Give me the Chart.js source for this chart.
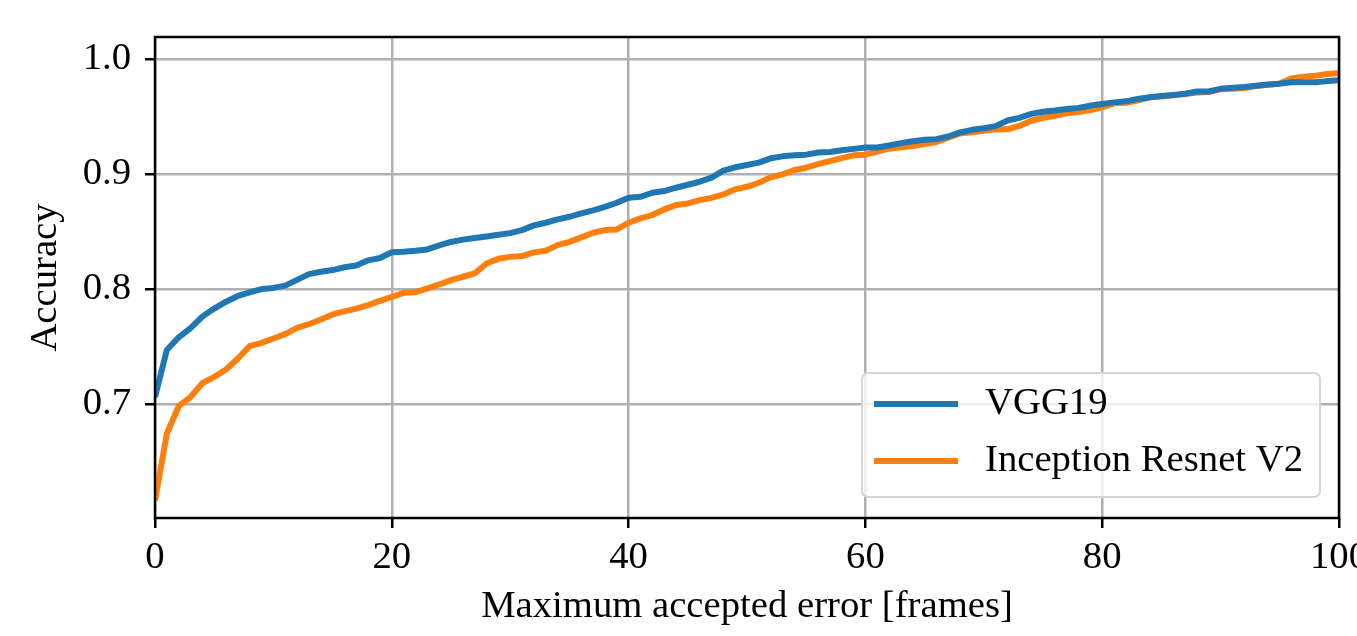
<!DOCTYPE html>
<html>
<head>
<meta charset="utf-8">
<script src="https://cdn.jsdelivr.net/npm/chart.js@4.4.1/dist/chart.umd.min.js"></script>
<style>
  html, body { margin: 0; padding: 0; background: #ffffff; }
  #wrap { width: 1357px; height: 636px; position: relative; }
</style>
</head>
<body>
<div id="wrap"><canvas id="c"></canvas></div>
<script>
const frames = [0,1,2,3,4,5,6,7,8,9,10,11,12,13,14,15,16,17,18,19,20,21,22,23,24,25,26,27,28,29,30,31,32,33,34,35,36,37,38,39,40,41,42,43,44,45,46,47,48,49,50,51,52,53,54,55,56,57,58,59,60,61,62,63,64,65,66,67,68,69,70,71,72,73,74,75,76,77,78,79,80,81,82,83,84,85,86,87,88,89,90,91,92,93,94,95,96,97,98,99,100];

const vgg19 = [0.706,0.747,0.758,0.766,0.776,0.783,0.789,0.794,0.797,0.800,
  0.801,0.803,0.808,0.813,0.815,0.8165,0.819,0.8205,0.825,0.827,
  0.832,0.8325,0.8333,0.8345,0.838,0.841,0.843,0.8444,0.8458,0.8472,
  0.8487,0.8513,0.8554,0.8577,0.8606,0.8629,0.8658,0.8685,0.8716,0.8751,
  0.8795,0.8803,0.8838,0.8853,0.8882,0.8908,0.8934,0.897,0.9031,0.906,
  0.908,0.910,0.9138,0.9155,0.9164,0.917,0.9188,0.9193,0.9208,0.922,
  0.9232,0.9232,0.925,0.927,0.9287,0.930,0.9305,0.9328,0.9363,0.9386,
  0.940,0.9418,0.9467,0.949,0.9525,0.9543,0.9554,0.9568,0.9577,0.9597,
  0.9611,0.9625,0.9634,0.9655,0.9669,0.968,0.969,0.970,0.972,0.972,
  0.9743,0.9752,0.9758,0.977,0.978,0.9788,0.980,0.980,0.980,0.981,0.9817];

const inceptionResnetV2 = [0.616,0.674,0.698,0.706,0.718,0.7235,0.730,0.7395,0.7503,0.7531,
  0.757,0.7607,0.7662,0.7694,0.7735,0.7779,0.7805,0.783,0.786,0.7897,
  0.7932,0.7967,0.7973,0.8005,0.804,0.8078,0.8107,0.8136,0.8223,0.8263,
  0.828,0.8287,0.8319,0.8333,0.8382,0.8411,0.845,0.849,0.8513,0.8519,
  0.8577,0.8615,0.8644,0.8693,0.8731,0.8745,0.8774,0.8794,0.8824,0.8868,
  0.889,0.8925,0.8972,0.8998,0.9036,0.9056,0.9088,0.9114,0.914,0.9164,
  0.917,0.9196,0.9222,0.9234,0.9245,0.9262,0.928,0.9317,0.9355,0.9364,
  0.9378,0.939,0.939,0.942,0.9465,0.9491,0.9509,0.953,0.9541,0.9559,
  0.9582,0.9617,0.9622,0.964,0.9669,0.9675,0.9686,0.9698,0.971,0.9715,
  0.9741,0.9744,0.975,0.9767,0.9779,0.979,0.9834,0.9849,0.9857,0.9872,0.9878];

const seriesNames = ['VGG19', 'Inception Resnet V2'];
const seriesColors = ['#1f77b4', '#ff7f0e'];
const yTickValues = [0.7, 0.8, 0.9, 1.0];
const xTickValues = [0, 20, 40, 60, 80, 100];
const xTitle = 'Maximum accepted error [frames]';
const yTitle = 'Accuracy';

const FONT_FAMILY = '"Liberation Serif", "Times New Roman", "DejaVu Serif", serif';
const FONT_SIZE = 38.7;

function toPoints(ys) { return frames.map((f, i) => ({ x: f, y: ys[i] })); }

const framePlugin = {
  id: 'framePlugin',
  afterDatasetsDraw(chart) {
    const { ctx, chartArea: a } = chart;
    ctx.save();
    // legend box
    const bw = 458, bh = 124;
    const bx = a.right - 19 - bw, by = a.bottom - 21 - bh;
    ctx.beginPath();
    const r = 6;
    ctx.moveTo(bx + r, by);
    ctx.arcTo(bx + bw, by, bx + bw, by + bh, r);
    ctx.arcTo(bx + bw, by + bh, bx, by + bh, r);
    ctx.arcTo(bx, by + bh, bx, by, r);
    ctx.arcTo(bx, by, bx + bw, by, r);
    ctx.closePath();
    ctx.fillStyle = 'rgba(255,255,255,0.8)';
    ctx.fill();
    ctx.strokeStyle = '#d6d6d6';
    ctx.lineWidth = 2;
    ctx.stroke();
    ctx.font = FONT_SIZE + 'px ' + FONT_FAMILY;
    ctx.textBaseline = 'middle';
    ctx.textAlign = 'left';
    chart.data.datasets.forEach((ds, i) => {
      const ly = by + 31 + i * 57;
      ctx.beginPath();
      ctx.moveTo(bx + 12, ly);
      ctx.lineTo(bx + 96, ly);
      ctx.strokeStyle = ds.borderColor;
      ctx.lineWidth = 6;
      ctx.lineCap = 'butt';
      ctx.stroke();
      ctx.fillStyle = '#000000';
      ctx.fillText(ds.label, bx + 123, ly);
    });
    // spines
    ctx.strokeStyle = '#000000';
    ctx.lineWidth = 2.5;
    ctx.strokeRect(a.left, a.top, a.right - a.left, a.bottom - a.top);
    ctx.restore();
  }
};

new Chart(document.getElementById('c'), {
  type: 'line',
  data: {
    datasets: [
      { label: seriesNames[0], data: toPoints(vgg19), borderColor: seriesColors[0], backgroundColor: seriesColors[0], borderWidth: 6, pointRadius: 0, tension: 0, fill: false, borderJoinStyle: 'round', borderCapStyle: 'butt' },
      { label: seriesNames[1], data: toPoints(inceptionResnetV2), borderColor: seriesColors[1], backgroundColor: seriesColors[1], borderWidth: 6, pointRadius: 0, tension: 0, fill: false, borderJoinStyle: 'round', borderCapStyle: 'butt' }
    ]
  },
  options: {
    responsive: true,
    maintainAspectRatio: false,
    animation: false,
    devicePixelRatio: 1,
    layout: { padding: { top: 37, right: 18, left: 0, bottom: 0 } },
    plugins: { legend: { display: false }, tooltip: { enabled: false } },
    scales: {
      x: {
        type: 'linear',
        min: 0, max: 100,
        afterBuildTicks(scale) { scale.ticks = xTickValues.map(v => ({ value: v })); },
        afterFit(scale) { scale.height = 118; scale.paddingLeft = 0; scale.paddingRight = 0; },
        ticks: {
          color: '#000000',
          padding: 7,
          maxRotation: 0,
          autoSkip: false,
          font: { family: FONT_FAMILY, size: FONT_SIZE, lineHeight: 1.2 },
          callback: (v) => String(v)
        },
        grid: { color: '#b0b0b0', lineWidth: 2.5, tickColor: '#000000', tickLength: 10, tickWidth: 2.5, drawTicks: true },
        border: { display: false },
        title: { display: true, text: xTitle, color: '#000000', padding: { top: 0, bottom: 6 }, font: { family: FONT_FAMILY, size: FONT_SIZE, lineHeight: 1.2 } }
      },
      y: {
        type: 'linear',
        min: 0.6007, max: 1.0194,
        afterBuildTicks(scale) { scale.ticks = yTickValues.map(v => ({ value: v })); },
        afterFit(scale) { scale.width = 155; scale.paddingTop = 0; scale.paddingBottom = 0; },
        ticks: {
          color: '#000000',
          padding: 14,
          autoSkip: false,
          font: { family: FONT_FAMILY, size: FONT_SIZE, lineHeight: 1.2 },
          callback: (v) => Number(v).toFixed(1)
        },
        grid: { color: '#b0b0b0', lineWidth: 2.5, tickColor: '#000000', tickLength: 10, tickWidth: 2.5, drawTicks: true },
        border: { display: false },
        title: { display: true, text: yTitle, color: '#000000', padding: { top: 23, bottom: 0 }, font: { family: FONT_FAMILY, size: FONT_SIZE, lineHeight: 1.2 } }
      }
    }
  },
  plugins: [framePlugin]
});
</script>
</body>
</html>
